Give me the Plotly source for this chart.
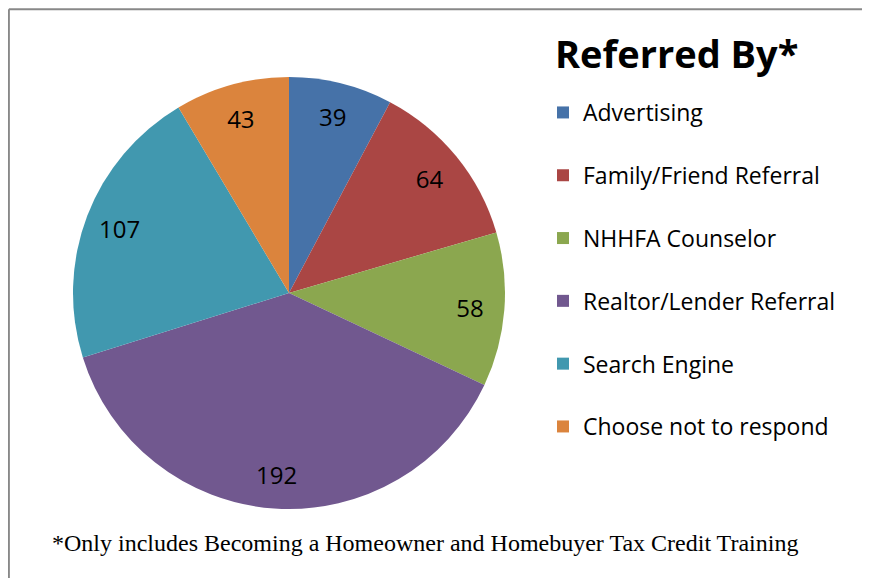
import plotly.graph_objects as go

# data
labels = ["Advertising", "Family/Friend Referral", "NHHFA Counselor",
          "Realtor/Lender Referral", "Search Engine", "Choose not to respond"]
values = [39, 64, 58, 192, 107, 43]
colors = ["#4672A8", "#AA4644", "#8BA74F", "#71588F", "#4198AF", "#DB843D"]

W, H = 870, 578
OFF = 8  # page body margin, positions below are measured on the page

def px_x(x):
    return (x - OFF) / W

def px_y(y):
    return 1 - (y - OFF) / H

# legend labels get a blank second line so entries sit ~62px apart
legend_labels = [lab + "<br> " for lab in labels]

pie_domain = dict(x=[px_x(73), px_x(505)], y=[px_y(509), px_y(77)])

fig = go.Figure()
fig.add_trace(go.Pie(
    labels=legend_labels,
    values=values,
    marker=dict(colors=colors, line=dict(width=0)),
    sort=False,
    direction="clockwise",
    rotation=0,
    textinfo="none",
    domain=pie_domain,
    hovertemplate="%{label}: %{value}<extra></extra>",
))
# transparent ring on top, only to put the value labels near the rim like Excel
fig.add_trace(go.Pie(
    labels=legend_labels,
    values=values,
    hole=0.68,
    marker=dict(colors=["rgba(0,0,0,0)"] * len(values), line=dict(width=0)),
    sort=False,
    direction="clockwise",
    rotation=0,
    textinfo="value",
    textposition="inside",
    insidetextorientation="horizontal",
    textfont=dict(family="Open Sans, sans-serif", size=24, color="black"),
    domain=pie_domain,
    showlegend=False,
    hoverinfo="skip",
))

fig.update_layout(
    width=W, height=H,
    margin=dict(l=0, r=0, t=0, b=0),
    paper_bgcolor="white",
    plot_bgcolor="white",
    showlegend=True,
    legend=dict(
        x=px_x(543), y=px_y(91), xanchor="left", yanchor="top",
        font=dict(family="Open Sans, sans-serif", size=23, color="black"),
        valign="top",
        bgcolor="rgba(0,0,0,0)",
    ),
    annotations=[
        dict(text="<b>Referred By*</b>", x=px_x(553), y=px_y(81),
             xref="paper", yref="paper", xanchor="left", yanchor="bottom",
             showarrow=False,
             font=dict(family="Open Sans, sans-serif", size=38, color="black")),
        dict(text="*Only includes Becoming a Homeowner and Homebuyer Tax Credit Training",
             x=px_x(50), y=px_y(543), xref="paper", yref="paper",
             xanchor="left", yanchor="middle", showarrow=False,
             font=dict(family="Liberation Serif, serif", size=24, color="black")),
    ],
    shapes=[
        dict(type="line", xref="paper", yref="paper",
             x0=0.001, x1=1, y0=0.998, y1=0.998,
             line=dict(color="#888888", width=2)),
        dict(type="line", xref="paper", yref="paper",
             x0=0.001, x1=0.001, y0=0.998, y1=0,
             line=dict(color="#888888", width=2)),
    ],
)

fig.write_html("out.html")
